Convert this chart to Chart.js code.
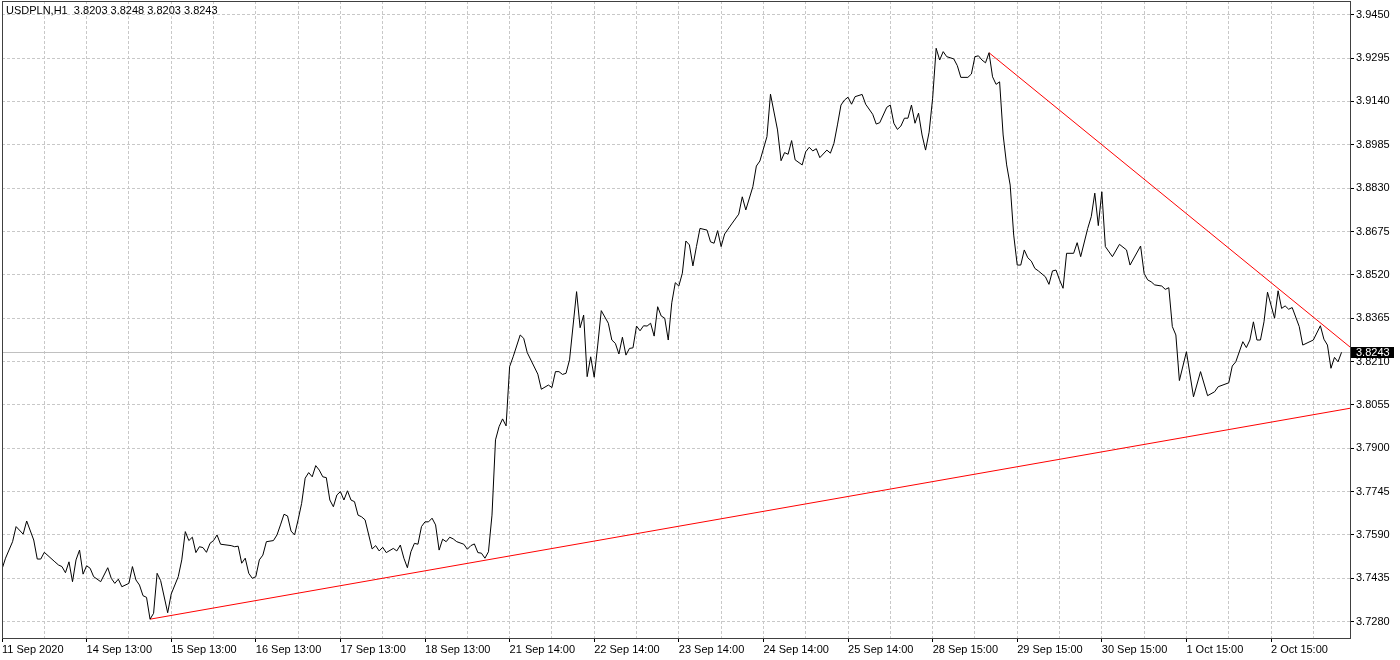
<!DOCTYPE html>
<html>
<head>
<meta charset="utf-8">
<title>USDPLN,H1</title>
<script src="https://cdn.jsdelivr.net/npm/chart.js@4.4.0/dist/chart.umd.min.js"></script>
<style>
  html, body { margin: 0; padding: 0; background: #fff; }
  #wrap { width: 1400px; height: 660px; }
</style>
</head>
<body>
<div id="wrap"><canvas id="chart" width="1400" height="660"></canvas></div>
<script>
// header line and last close
const symbolTitle = "USDPLN,H1  3.8203 3.8248 3.8203 3.8243";
const lastPrice = 3.8243;

// H1 bar number (trading hours since 11 Sep 2020) and close price
const barIndex = [
  0, 1, 3, 4, 6, 7, 9, 10, 11, 12,
  15, 16, 17, 18, 19, 20, 21, 22, 23, 24,
  25, 26, 28, 30, 31, 32, 33, 34, 36, 37,
  38, 39, 40, 41, 42, 43, 44, 45, 47, 48,
  50, 51, 52, 53, 54, 55, 56, 57, 58, 59,
  60, 61, 62, 65, 66, 67, 68, 69, 70, 71,
  72, 73, 74, 75, 77, 78, 79, 80, 81, 82,
  83, 84, 85, 86, 87, 88, 89, 90, 91, 92,
  93, 94, 95, 96, 97, 98, 99, 100, 101, 102,
  103, 105, 106, 107, 108, 109, 111, 112, 113, 114,
  115, 116, 117, 118, 119, 120, 121, 122, 123, 124,
  125, 126, 127, 128, 129, 131, 132, 133, 134, 135,
  136, 137, 138, 139, 140, 141, 142, 143, 144, 145,
  147, 148, 149, 152, 153, 155, 156, 157, 158, 159,
  160, 161, 163, 164, 165, 166, 167, 168, 169, 170,
  172, 173, 174, 175, 176, 177, 178, 179, 180, 181,
  182, 183, 184, 185, 186, 187, 188, 189, 190, 191,
  192, 193, 194, 195, 196, 197, 198, 200, 201, 202,
  203, 204, 205, 207, 209, 210, 211, 213, 214, 215,
  217, 218, 220, 221, 222, 223, 224, 225, 227, 228,
  229, 230, 231, 232, 234, 235, 236, 237, 238, 239,
  240, 241, 242, 244, 245, 247, 248, 249, 251, 252,
  253, 254, 255, 256, 257, 258, 259, 260, 261, 262,
  263, 264, 265, 266, 267, 268, 270, 271, 272, 274,
  275, 276, 277, 278, 279, 280, 281, 282, 283, 284,
  285, 286, 287, 288, 289, 290, 291, 292, 293, 294,
  296, 297, 298, 299, 300, 301, 302, 304, 305, 306,
  308, 309, 310, 311, 312, 313, 315, 317, 319, 320,
  323, 324, 325, 326, 327, 329, 330, 331, 332, 333,
  334, 336, 338, 340, 342, 344, 345, 348, 349, 350,
  352, 353, 354, 355, 356, 357, 358, 359, 361, 362,
  363, 364, 365, 366, 368, 369, 372, 374, 375, 376,
  377, 378, 379, 380
];
const closePrice = [
  3.7468, 3.7507, 3.7566, 3.7620, 3.7593, 3.7640, 3.7572, 3.7504, 3.7504, 3.7528,
  3.7494, 3.7483, 3.7477, 3.7455, 3.7494, 3.7423, 3.7501, 3.7536, 3.7450, 3.7480,
  3.7471, 3.7441, 3.7423, 3.7473, 3.7435, 3.7417, 3.7432, 3.7405, 3.7417, 3.7477,
  3.7429, 3.7411, 3.7373, 3.7367, 3.7289, 3.7310, 3.7453, 3.7427, 3.7312, 3.7379,
  3.7441, 3.7501, 3.7602, 3.7570, 3.7582, 3.7527, 3.7548, 3.7545, 3.7528, 3.7560,
  3.7570, 3.7590, 3.7557, 3.7552, 3.7548, 3.7550, 3.7489, 3.7507, 3.7453, 3.7435,
  3.7441, 3.7501, 3.7518, 3.7566, 3.7570, 3.7590, 3.7626, 3.7664, 3.7658, 3.7604,
  3.7590, 3.7644, 3.7703, 3.7793, 3.7813, 3.7798, 3.7838, 3.7822, 3.7798, 3.7795,
  3.7715, 3.7691, 3.7733, 3.7745, 3.7715, 3.7748, 3.7715, 3.7709, 3.7661, 3.7655,
  3.7644, 3.7540, 3.7552, 3.7533, 3.7546, 3.7527, 3.7542, 3.7533, 3.7554, 3.7507,
  3.7473, 3.7530, 3.7560, 3.7557, 3.7620, 3.7637, 3.7637, 3.7650, 3.7626, 3.7536,
  3.7575, 3.7566, 3.7582, 3.7576, 3.7566, 3.7557, 3.7539, 3.7552, 3.7558, 3.7527,
  3.7525, 3.7507, 3.7530, 3.7661, 3.7930, 3.7977, 3.8005, 3.7980, 3.8192, 3.8227,
  3.8305, 3.8293, 3.8242, 3.8165, 3.8111, 3.8126, 3.8117, 3.8174, 3.8174, 3.8164,
  3.8168, 3.8216, 3.8460, 3.8331, 3.8376, 3.8156, 3.8227, 3.8154, 3.8269, 3.8392,
  3.8347, 3.8287, 3.8275, 3.8237, 3.8297, 3.8233, 3.8257, 3.8259, 3.8337, 3.8320,
  3.8338, 3.8337, 3.8347, 3.8301, 3.8406, 3.8373, 3.8365, 3.8287, 3.8420, 3.8492,
  3.8480, 3.8526, 3.8641, 3.8627, 3.8552, 3.8621, 3.8686, 3.8680, 3.8638, 3.8633,
  3.8678, 3.8621, 3.8666, 3.8702, 3.8737, 3.8799, 3.8752, 3.8835, 3.8909, 3.8927,
  3.9014, 3.9166, 3.9038, 3.8928, 3.8957, 3.8951, 3.9000, 3.8931, 3.8913, 3.8960,
  3.8976, 3.8963, 3.8971, 3.8939, 3.8966, 3.8955, 3.8990, 3.9056, 3.9127, 3.9145,
  3.9155, 3.9130, 3.9157, 3.9165, 3.9130, 3.9094, 3.9059, 3.9064, 3.9119, 3.9127,
  3.9062, 3.9040, 3.9052, 3.9080, 3.9080, 3.9127, 3.9062, 3.9098, 3.9020, 3.8966,
  3.9030, 3.9151, 3.9330, 3.9288, 3.9318, 3.9300, 3.9292, 3.9268, 3.9226, 3.9226,
  3.9238, 3.9300, 3.9303, 3.9288, 3.9278, 3.9314, 3.9228, 3.9201, 3.9210, 3.9020,
  3.8913, 3.8841, 3.8662, 3.8555, 3.8555, 3.8609, 3.8581, 3.8569, 3.8543, 3.8534,
  3.8513, 3.8486, 3.8534, 3.8537, 3.8502, 3.8472, 3.8597, 3.8597, 3.8635, 3.8585,
  3.8686, 3.8728, 3.8812, 3.8696, 3.8817, 3.8621, 3.8585, 3.8629, 3.8609, 3.8555,
  3.8623, 3.8525, 3.8502, 3.8495, 3.8484, 3.8480, 3.8468, 3.8474, 3.8335, 3.8305,
  3.8142, 3.8245, 3.8084, 3.8174, 3.8088, 3.8102, 3.8120, 3.8134, 3.8194, 3.8209,
  3.8281, 3.8260, 3.8287, 3.8352, 3.8287, 3.8287, 3.8352, 3.8458, 3.8365, 3.8463,
  3.8400, 3.8409, 3.8397, 3.8403, 3.8335, 3.8269, 3.8287, 3.8338, 3.8290, 3.8269,
  3.8186, 3.8225, 3.8209, 3.8243
];

// trend lines drawn on the chart (bar, price)
const supportBars = [42, 382.4];
const supportPrices = [3.7289, 3.8043];
const resistBars = [280, 382.4];
const resistPrices = [3.9314, 3.8262];

// axis
const priceTicks = [3.7280, 3.7435, 3.7590, 3.7745, 3.7900, 3.8055, 3.8210, 3.8365,
                    3.8520, 3.8675, 3.8830, 3.8985, 3.9140, 3.9295, 3.9450];
const timeLabels = ["11 Sep 2020", "14 Sep 13:00", "15 Sep 13:00", "16 Sep 13:00",
                    "17 Sep 13:00", "18 Sep 13:00", "21 Sep 14:00", "22 Sep 14:00",
                    "23 Sep 14:00", "24 Sep 14:00", "25 Sep 14:00", "28 Sep 15:00",
                    "29 Sep 15:00", "30 Sep 15:00", "1 Oct 15:00", "2 Oct 15:00"];
const barsPerLabel = 24;
const barsPerGrid = 12;
const firstBar = 0, lastVisibleBar = 382.4;
const priceMin = 3.72217, priceMax = 3.94990;

const FONT = "Tahoma, 'Liberation Sans', Arial, sans-serif";
Chart.defaults.font.family = FONT;
Chart.defaults.font.size = 11;
Chart.defaults.color = "#000";

const gridBars = [];
for (let b = firstBar; b <= lastVisibleBar; b += barsPerGrid) gridBars.push(b);

const toPoints = (xs, ys) => xs.map((x, i) => ({ x: x, y: ys[i] }));

// frame, bid line, price box and the header text
const mtDecor = {
  id: "mtDecor",
  beforeDatasetsDraw(chart) {
    const { ctx, chartArea: a, scales } = chart;
    const py = Math.round(scales.y.getPixelForValue(lastPrice)) + 0.5;
    ctx.save();
    ctx.strokeStyle = "#c0c0c0";
    ctx.lineWidth = 1;
    ctx.beginPath();
    ctx.moveTo(a.left, py);
    ctx.lineTo(a.right, py);
    ctx.stroke();
    ctx.restore();
  },
  afterDraw(chart) {
    const { ctx, chartArea: a, scales } = chart;
    ctx.save();
    ctx.strokeStyle = "#404040";
    ctx.lineWidth = 1;
    ctx.strokeRect(a.left + 0.5, a.top + 0.5, a.right - a.left, a.bottom - a.top);

    const py = Math.round(scales.y.getPixelForValue(lastPrice));
    ctx.fillStyle = "#000";
    ctx.fillRect(a.right + 1, py - 5, 43, 11);
    ctx.fillStyle = "#fff";
    ctx.font = "11px " + FONT;
    ctx.textBaseline = "middle";
    ctx.textAlign = "left";
    ctx.fillText(lastPrice.toFixed(4), a.right + 6, py + 1);

    ctx.fillStyle = "#000";
    ctx.fillText(symbolTitle, a.left + 4, 11);
    ctx.restore();
  }
};

new Chart(document.getElementById("chart"), {
  type: "line",
  data: {
    datasets: [
      {
        data: toPoints(barIndex, closePrice),
        borderColor: "#000",
        borderWidth: 1,
        pointRadius: 0,
        tension: 0
      },
      {
        data: toPoints(supportBars, supportPrices),
        borderColor: "#ff0000",
        borderWidth: 1,
        pointRadius: 0
      },
      {
        data: toPoints(resistBars, resistPrices),
        borderColor: "#ff0000",
        borderWidth: 1,
        pointRadius: 0
      }
    ]
  },
  options: {
    responsive: false,
    animation: false,
    devicePixelRatio: 1,
    layout: { padding: { left: 2, top: 1, right: 0, bottom: 0 } },
    plugins: { legend: { display: false }, tooltip: { enabled: false } },
    scales: {
      x: {
        type: "linear",
        min: firstBar,
        max: lastVisibleBar,
        afterBuildTicks: s => { s.ticks = gridBars.map(v => ({ value: v })); },
        afterFit: s => { s.height = 22; s.paddingLeft = 0; s.paddingRight = 0; },
        grid: {
          color: "#c8c8c8",
          tickLength: 4,
          tickColor: c => (c.tick && c.tick.value % barsPerLabel === 0) ? "#000" : "rgba(0,0,0,0)"
        },
        border: { display: false, dash: [3, 2] },
        ticks: {
          autoSkip: false,
          maxRotation: 0,
          align: "start",
          padding: 1,
          callback: v => v % barsPerLabel === 0 ? timeLabels[v / barsPerLabel] : ""
        }
      },
      y: {
        position: "right",
        min: priceMin,
        max: priceMax,
        afterBuildTicks: s => { s.ticks = priceTicks.map(v => ({ value: v })); },
        afterFit: s => { s.width = 50; s.paddingTop = 0; s.paddingBottom = 0; },
        grid: { color: "#c8c8c8", tickLength: 4, tickColor: "#000" },
        border: { display: false, dash: [3, 2] },
        ticks: {
          autoSkip: false,
          padding: 2,
          callback: v => Number(v).toFixed(4)
        }
      }
    }
  },
  plugins: [mtDecor]
});
</script>
</body>
</html>
